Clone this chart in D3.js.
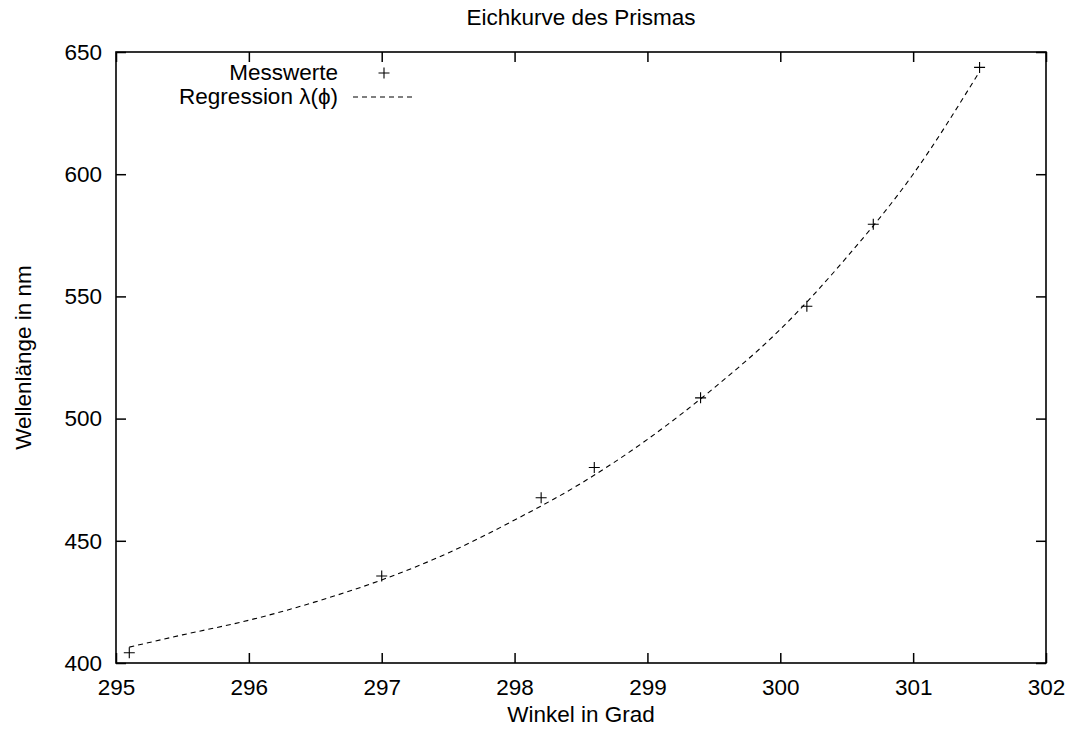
<!DOCTYPE html>
<html>
<head>
<meta charset="utf-8">
<script src="https://cdn.jsdelivr.net/npm/d3@7"></script>
<style>
  html, body { margin: 0; padding: 0; background: #fff; }
  svg text { font-family: "Liberation Sans", Arial, sans-serif; font-size: 22.5px; fill: #000; }
</style>
</head>
<body>
<div id="chart"></div>
<script>
// Messwerte (Winkel in Grad, Wellenlänge in nm)
const messWinkel = [295.1, 297.0, 298.2, 298.6, 299.4, 300.2, 300.7, 301.5];
const messLambda = [404.2, 435.6, 467.6, 480.0, 508.5, 546.0, 579.5, 643.7];

// Regressionskurve
const regWinkel = [295.1, 295.5, 296, 296.5, 297, 297.5, 298, 298.5, 299, 299.5, 300, 300.5, 301, 301.5];
const regLambda = [406.5, 411.5, 417.5, 425, 434, 445, 458.5, 473.5, 491.5, 512.5, 536.5, 566, 600, 642];

const xTicks = [295, 296, 297, 298, 299, 300, 301, 302];
const yTicks = [400, 450, 500, 550, 600, 650];

const titel = 'Eichkurve des Prismas';
const xTitel = 'Winkel in Grad';
const yTitel = 'Wellenlänge in nm';
const legendeMess = 'Messwerte';
const legendeReg = 'Regression λ(ϕ)';

// Abmessungen
const W = 1073, H = 733;
const margin = {top: 52, right: 27, bottom: 70, left: 116};
const width = W - margin.left - margin.right;
const height = H - margin.top - margin.bottom;
const tickLen = 10;
const fontCss = '"Liberation Sans", Arial, sans-serif';

const svg = d3.select('#chart')
    .append('svg')
    .attr('width', W)
    .attr('height', H);

const g = svg.append('g')
    .attr('transform', `translate(${margin.left},${margin.top})`);

const x = d3.scaleLinear().domain([295, 302]).range([0, width]);
const y = d3.scaleLinear().domain([400, 650]).range([height, 0]);

// Ticks nach innen, auf allen vier Seiten
const axisStyle = sel => {
    sel.select('.domain').remove();
    sel.selectAll('line').attr('stroke', '#000').attr('stroke-width', 1.5);
    sel.selectAll('text').style('font-size', '22.5px').style('font-family', fontCss);
};

g.append('g')
    .attr('transform', `translate(0,${height})`)
    .call(d3.axisBottom(x).tickValues(xTicks).tickSizeInner(-tickLen).tickSizeOuter(0).tickPadding(16).tickFormat(d3.format('d')))
    .call(axisStyle);

g.append('g')
    .call(d3.axisTop(x).tickValues(xTicks).tickSizeInner(-tickLen).tickSizeOuter(0).tickFormat(''))
    .call(axisStyle);

g.append('g')
    .call(d3.axisLeft(y).tickValues(yTicks).tickSizeInner(-tickLen).tickSizeOuter(0).tickPadding(14).tickFormat(d3.format('d')))
    .call(axisStyle);

g.append('g')
    .attr('transform', `translate(${width},0)`)
    .call(d3.axisRight(y).tickValues(yTicks).tickSizeInner(-tickLen).tickSizeOuter(0).tickFormat(''))
    .call(axisStyle);

// Rahmen
g.append('rect')
    .attr('x', 0).attr('y', 0)
    .attr('width', width).attr('height', height)
    .attr('fill', 'none')
    .attr('stroke', '#000')
    .attr('stroke-width', 1.6);

// Regressionskurve
const regData = regWinkel.map((w, i) => ({w: w, l: regLambda[i]}));
const line = d3.line()
    .x(d => x(d.w))
    .y(d => y(d.l))
    .curve(d3.curveMonotoneX);

g.append('path')
    .datum(regData)
    .attr('fill', 'none')
    .attr('stroke', '#000')
    .attr('stroke-width', 1.1)
    .attr('stroke-dasharray', '5,4')
    .attr('d', line);

// Messpunkte als Kreuze
const messData = messWinkel.map((w, i) => ({w: w, l: messLambda[i]}));
const plusPath = s => `M${-s},0H${s}M0,${-s}V${s}`;

g.selectAll('.mess')
    .data(messData)
    .enter()
    .append('path')
    .attr('class', 'mess')
    .attr('transform', d => `translate(${x(d.w)},${y(d.l)})`)
    .attr('d', plusPath(5.5))
    .attr('stroke', '#000')
    .attr('stroke-width', 1.1)
    .attr('fill', 'none');

// Legende (absolute Koordinaten)
const legend = svg.append('g');

legend.append('text')
    .attr('x', 338).attr('y', 80)
    .attr('text-anchor', 'end')
    .text(legendeMess);

legend.append('path')
    .attr('transform', 'translate(384,73)')
    .attr('d', plusPath(5.5))
    .attr('stroke', '#000')
    .attr('stroke-width', 1.1);

legend.append('text')
    .attr('x', 338).attr('y', 104)
    .attr('text-anchor', 'end')
    .text(legendeReg);

legend.append('line')
    .attr('x1', 353).attr('x2', 416)
    .attr('y1', 97).attr('y2', 97)
    .attr('stroke', '#000')
    .attr('stroke-width', 1.1)
    .attr('stroke-dasharray', '5,4');

// Titel und Achsenbeschriftungen
svg.append('text')
    .attr('x', margin.left + width / 2)
    .attr('y', 25)
    .attr('text-anchor', 'middle')
    .text(titel);

svg.append('text')
    .attr('x', margin.left + width / 2)
    .attr('y', 722)
    .attr('text-anchor', 'middle')
    .text(xTitel);

svg.append('text')
    .attr('transform', `translate(31,${margin.top + height / 2}) rotate(-90)`)
    .attr('text-anchor', 'middle')
    .text(yTitel);
</script>
</body>
</html>
